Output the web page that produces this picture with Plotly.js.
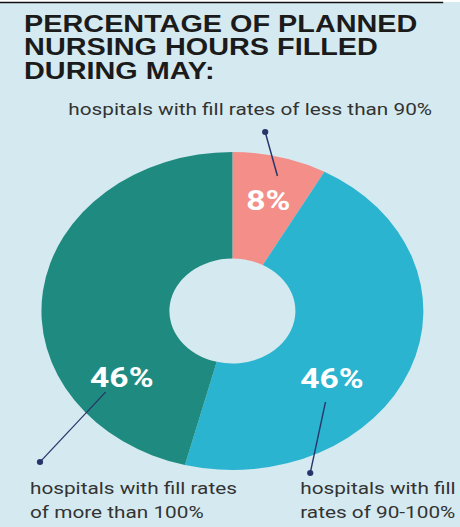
<!DOCTYPE html>
<html>
<head>
<meta charset="utf-8">
<script src="https://cdn.plot.ly/plotly-3.0.1.min.js"></script>
<style>
  html, body { margin: 0; padding: 0; background: #d5eaf0; overflow: hidden; }
  #wrap { width: 460px; height: 527px; overflow: hidden; position: relative; }
  #chart { width: 383px; height: 527px; transform: scaleX(1.20104); transform-origin: 0 0; }
</style>
</head>
<body>
<div id="wrap"><div id="chart"></div></div>
<script>
// ---- data ----
const categories = [
  'hospitals with fill rates of less than 90%',
  'hospitals with fill rates of 90-100%',
  'hospitals with fill rates of more than 100%'
];
const values = [8, 46, 46];
const sliceColors = ['#f38e89', '#2bb4d0', '#1f8b80'];
const titleLines = ['PERCENTAGE OF PLANNED', 'NURSING HOURS FILLED', 'DURING MAY:'];
const labelLines = [
  ['hospitals with fill rates of less than 90%'],
  ['hospitals with fill', 'rates of 90-100%'],
  ['hospitals with fill rates', 'of more than 100%']
];

// ---- layout helpers (compressed frame, stretched by CSS to 460 wide) ----
const W = 383, H = 527;
const px = x => x / W;
const py = y => 1 - y / H;

const BG = '#d5eaf0';
const labelFont = { family: 'Roboto, sans-serif', size: 17.3, color: '#333333' };
const pctFont = { family: 'Roboto, sans-serif', size: 28, color: '#ffffff', weight: 700 };
const titleFont = { family: 'Liberation Sans, Arial, sans-serif', size: 24, color: '#1b1b1b', weight: 700 };

const annotations = [];
// title
const titleY = [23, 46.5, 70];
titleLines.forEach((t, i) => annotations.push({
  text: t, xref: 'paper', yref: 'paper', x: px(17.5), y: py(titleY[i]),
  xanchor: 'left', yanchor: 'middle', showarrow: false, font: titleFont
}));
// category labels
const labelPos = [
  { x: 208.5, ys: [109], anchor: 'center' },
  { x: 247.5, ys: [488, 511.5], anchor: 'left' },
  { x: 22.5, ys: [488, 511.5], anchor: 'left' }
];
labelLines.forEach((lines, i) => lines.forEach((t, j) => annotations.push({
  text: t, xref: 'paper', yref: 'paper', x: px(labelPos[i].x), y: py(labelPos[i].ys[j]),
  xanchor: labelPos[i].anchor, yanchor: 'middle', showarrow: false, font: labelFont
})));
// percentage labels
const pctPos = [[223.5, 200], [276.5, 378], [101.5, 377]];
values.forEach((v, i) => annotations.push({
  text: v + '%', xref: 'paper', yref: 'paper', x: px(pctPos[i][0]), y: py(pctPos[i][1]),
  xanchor: 'center', yanchor: 'middle', showarrow: false, font: pctFont
}));

// leader lines with dots
const leaders = [
  [[220.8, 132], [231, 176]],
  [[258.3, 473], [271, 402]],
  [[33.3, 462], [88, 392]]
];
const lineColor = '#27346a';
const shapes = [
  { type: 'rect', xref: 'paper', yref: 'paper', x0: 0, x1: 1, y0: py(0), y1: py(2), fillcolor: '#ffffff', line: { width: 0 } },
  { type: 'line', xref: 'paper', yref: 'paper', x0: 0, x1: px(369), y0: py(2.5), y1: py(2.5), line: { color: '#111111', width: 1.6 } }
];
leaders.forEach(([a, b]) => {
  shapes.push({ type: 'line', xref: 'paper', yref: 'paper', x0: px(a[0]), y0: py(a[1]), x1: px(b[0]), y1: py(b[1]), line: { color: lineColor, width: 1.2 } });
  shapes.push({ type: 'circle', xref: 'paper', yref: 'paper', x0: px(a[0] - 2.6), x1: px(a[0] + 2.6), y0: py(a[1] - 3), y1: py(a[1] + 3), fillcolor: lineColor, line: { width: 0 } });
});

const data = [{
  type: 'pie',
  labels: categories,
  values: values,
  marker: { colors: sliceColors, line: { width: 0 } },
  hole: 0.33,
  sort: false,
  direction: 'clockwise',
  rotation: 0,
  textinfo: 'none',
  hoverinfo: 'label+percent',
  showlegend: false,
  domain: { x: [px(34.5), px(352.5)], y: [py(470), py(152)] }
}];

const layout = {
  width: W, height: H,
  margin: { l: 0, r: 0, t: 0, b: 0 },
  paper_bgcolor: BG,
  plot_bgcolor: BG,
  showlegend: false,
  annotations: annotations,
  shapes: shapes
};

Plotly.newPlot('chart', data, layout, { displayModeBar: false, staticPlot: true });
</script>
</body>
</html>
